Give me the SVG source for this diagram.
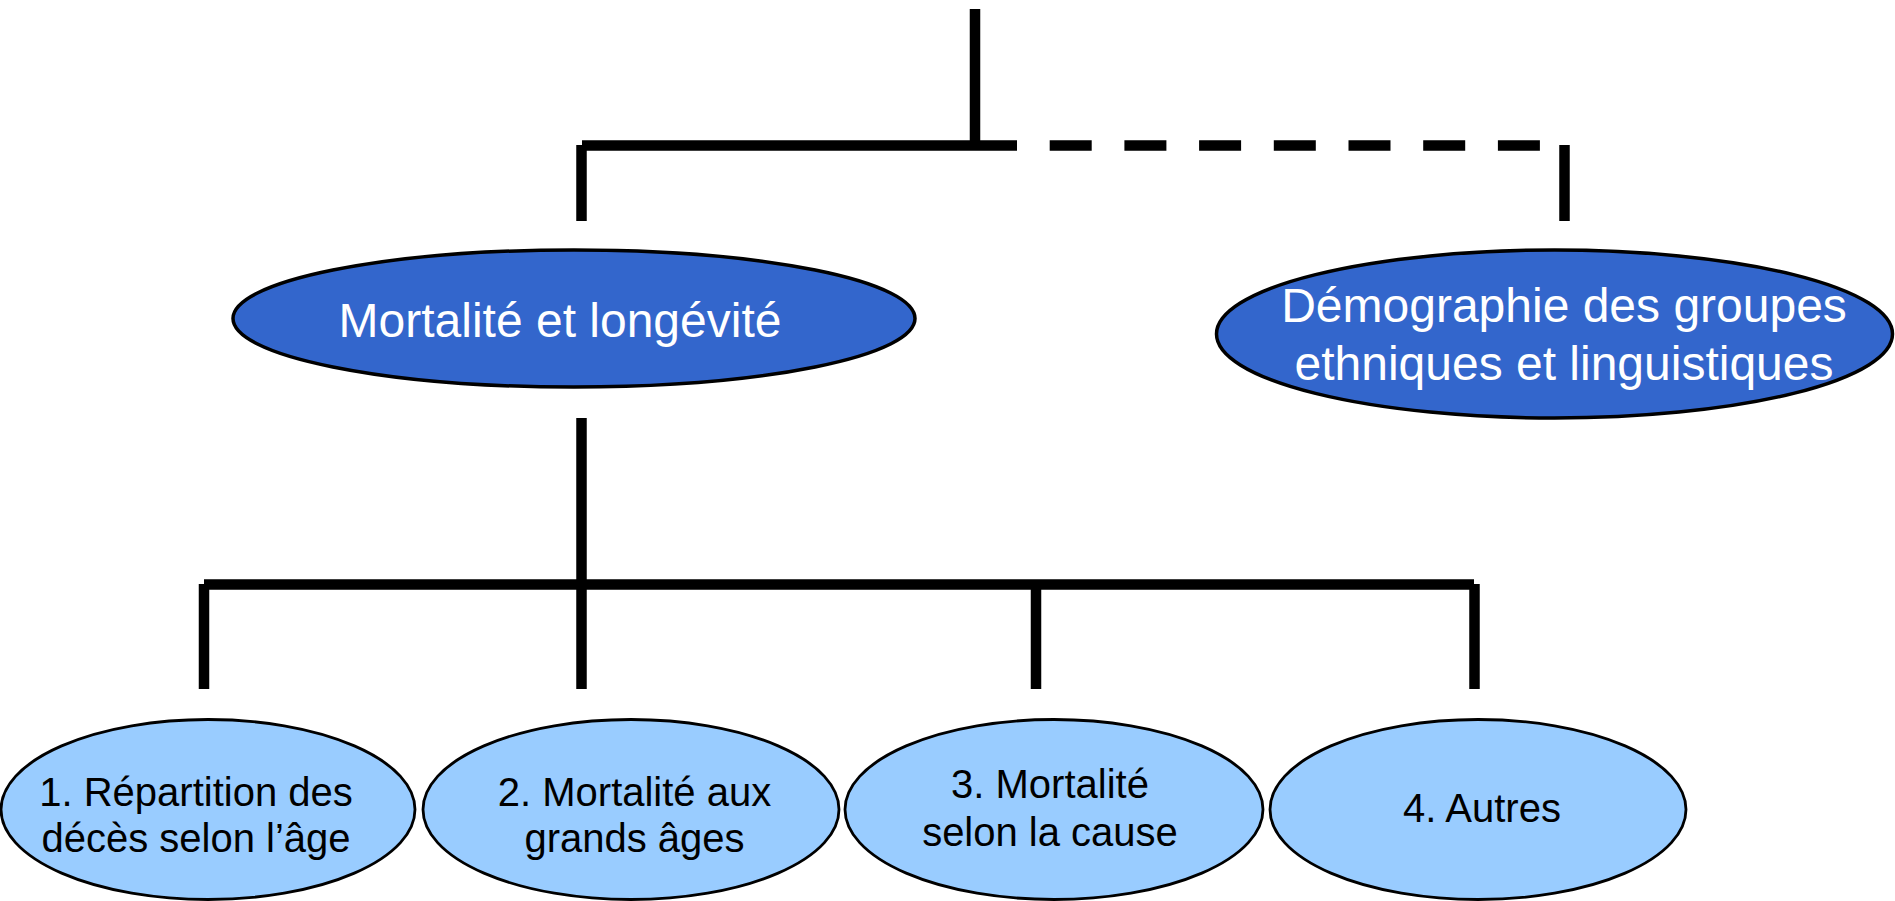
<svg xmlns="http://www.w3.org/2000/svg" width="1895" height="901" viewBox="0 0 1895 901">
<style>
.ln{stroke:#000;stroke-width:10.5;fill:none;stroke-linecap:butt}
.dk{fill:#3366CC;stroke:#000;stroke-width:3.5}
.lt{fill:#99CCFF;stroke:#000;stroke-width:2.8}
.tw{font-family:"Liberation Sans",Arial,sans-serif;font-size:48px;fill:#fff;text-anchor:middle}
.tb{font-family:"Liberation Sans",Arial,sans-serif;font-size:40px;fill:#000;text-anchor:middle}
</style>
<rect width="1895" height="901" fill="#fff"/>
<g id="connectors">
<line class="ln" x1="975" y1="9" x2="975" y2="146"/>
<line class="ln" x1="582" y1="145.5" x2="975" y2="145.5"/>
<line class="ln" x1="975" y1="145.5" x2="1541" y2="145.5" stroke-dasharray="42 32.7"/>
<line class="ln" x1="581.5" y1="145" x2="581.5" y2="221"/>
<line class="ln" x1="1564.5" y1="145" x2="1564.5" y2="221"/>
<line class="ln" x1="581.5" y1="418" x2="581.5" y2="689"/>
<line class="ln" x1="204" y1="584.5" x2="1474" y2="584.5"/>
<line class="ln" x1="204" y1="584" x2="204" y2="689"/>
<line class="ln" x1="1036" y1="584" x2="1036" y2="689"/>
<line class="ln" x1="1474.5" y1="584" x2="1474.5" y2="689"/>
</g>
<g id="node-mortalite">
<ellipse class="dk" cx="574" cy="318.5" rx="341" ry="68.5"/>
<text class="tw" x="560" y="337">Mortalité et longévité</text>
</g>
<g id="node-demographie">
<ellipse class="dk" cx="1554.5" cy="334" rx="338" ry="84"/>
<text class="tw" x="1564" y="322">Démographie des groupes</text>
<text class="tw" x="1564" y="380">ethniques et linguistiques</text>
</g>
<g id="node-1">
<ellipse class="lt" cx="208" cy="809.5" rx="207" ry="90"/>
<text class="tb" x="196" y="806">1. Répartition des</text>
<text class="tb" x="196" y="852">décès selon l’âge</text>
</g>
<g id="node-2">
<ellipse class="lt" cx="631" cy="809.5" rx="208" ry="90"/>
<text class="tb" x="634.5" y="806">2. Mortalité aux</text>
<text class="tb" x="634.5" y="852">grands âges</text>
</g>
<g id="node-3">
<ellipse class="lt" cx="1054" cy="809.5" rx="209" ry="90"/>
<text class="tb" x="1050" y="798">3. Mortalité</text>
<text class="tb" x="1050" y="846">selon la cause</text>
</g>
<g id="node-4">
<ellipse class="lt" cx="1478" cy="809.5" rx="208" ry="90"/>
<text class="tb" x="1482" y="822">4. Autres</text>
</g>
</svg>
